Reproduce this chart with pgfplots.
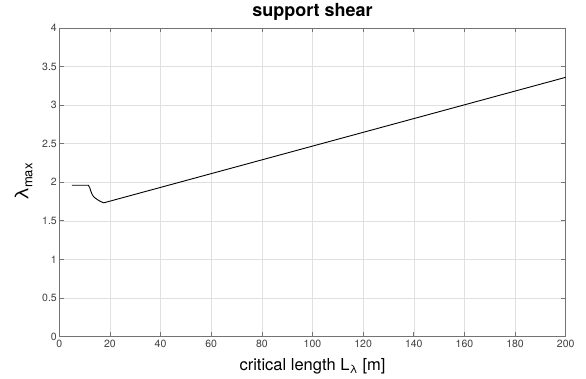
\documentclass[border=0pt]{standalone}
\usepackage{pgfplots}
\pgfplotsset{compat=1.18}
\usepackage{fontspec}
\setmainfont{TeX Gyre Heros}
\begin{document}
\begin{tikzpicture}
\begin{axis}[
  scale only axis,
  width=506.4pt, height=308.5pt,
  xmin=0, xmax=200, ymin=0, ymax=4,
  xtick={0,20,...,200},
  ytick={0,0.5,...,4},
  yticklabels={0,0.5,1,1.5,2,2.5,3,3.5,4},
  grid=major,
  major grid style={draw=black!12, line width=0.5pt},
  axis line style={draw=black!55, line width=0.6pt},
  tick style={draw=black!55, line width=0.6pt},
  tick align=inside,
  major tick length=4.5pt,
  xtick pos=both, ytick pos=both,
  /pgf/number format/assume math mode=true,
  tick label style={font=\fontsize{10.5}{12}\selectfont, text=black!75},
  xticklabel style={yshift=0pt},
  yticklabel style={xshift=1pt},
  title={\bfseries support shear},
  title style={font=\fontsize{18}{20}\selectfont, at={(axis description cs:0.5,1)}, anchor=base, yshift=5.5pt},
  xlabel={critical length L\textsubscript{λ} [m]},
  xlabel style={font=\fontsize{16.5}{18}\selectfont, at={(axis description cs:0.5,0)}, anchor=base, yshift=-34pt},
]
\addplot[black, line width=0.9pt] coordinates {
(5,1.96) (11.5,1.96) (12,1.93) (12.5,1.88) (13,1.84) (13.5,1.815) (14,1.80) (15,1.775) (16,1.755) (17,1.74) (17.6,1.733) (200,3.36)
};
\end{axis}
\node[rotate=90, anchor=base, inner sep=0pt, font=\fontsize{19}{20}\selectfont] at ([xshift=-31pt]current axis.west) {λ\raisebox{-0.4ex}{\fontsize{13}{13}\selectfont max}};
\path (current axis.south west) ++(-59.3pt,-42pt) coordinate (bl);
\path (current axis.north east) ++(20.3pt,26pt) coordinate (tr);
\useasboundingbox (bl) rectangle (tr);
\end{tikzpicture}
\end{document}
